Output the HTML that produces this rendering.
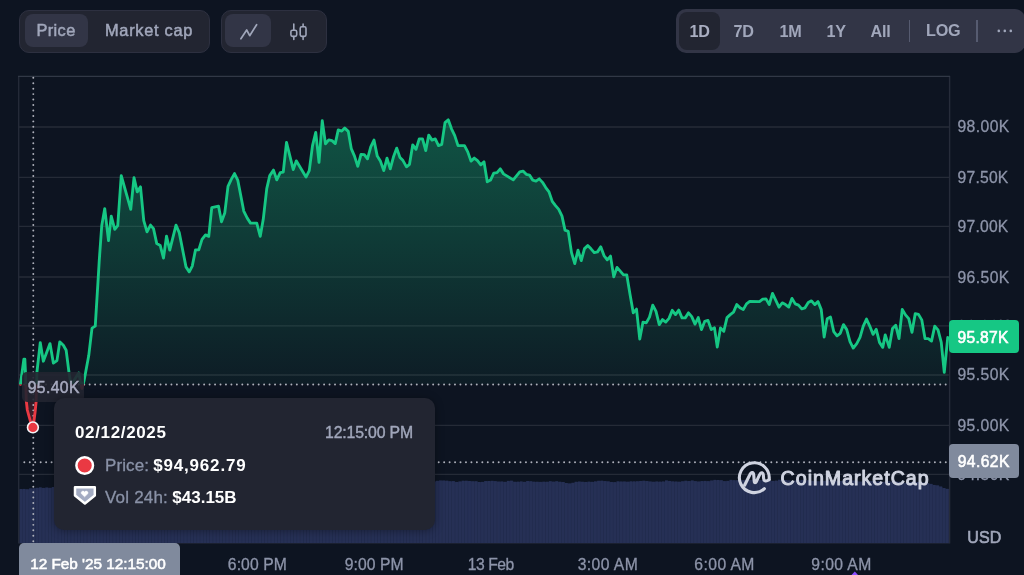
<!DOCTYPE html>
<html lang="en"><head><meta charset="utf-8"><title>Price chart</title>
<style>
*{box-sizing:border-box;margin:0;padding:0}
html,body{width:1024px;height:575px;overflow:hidden;background:#0d1421}
body{position:relative;font-family:"Liberation Sans",sans-serif;color:#a1a7bb;-webkit-font-smoothing:antialiased}
.abs{position:absolute}
.grp{position:absolute;top:10px;height:42.5px;background:#222531;border:1px solid #2d3040;border-radius:10px}
.act{position:absolute;background:#323546;border-radius:8px}
.t{position:absolute;white-space:nowrap;line-height:1}
.tb{font-size:16.4px;font-weight:400;color:#a1a7bb;letter-spacing:0.35px;-webkit-text-stroke:0.5px #a1a7bb}
.tbr{font-size:16.2px;font-weight:700;color:#a1a7bb;letter-spacing:-0.2px}
.yl{position:absolute;left:957.5px;width:60px;height:20px;line-height:20px;font-size:15.7px;color:#8d94a9;white-space:nowrap;letter-spacing:0.4px;-webkit-text-stroke:0.3px #8d94a9}
.xl{position:absolute;top:555.4px;width:100px;height:20px;line-height:20px;text-align:center;font-size:15.7px;color:#8d94a9;white-space:nowrap;letter-spacing:0.1px;-webkit-text-stroke:0.3px #8d94a9}
svg{position:absolute;left:0;top:0}
</style></head><body>

<svg width="1024" height="575" viewBox="0 0 1024 575">
<defs>
<linearGradient id="ga" x1="0" y1="118" x2="0" y2="384.4" gradientUnits="userSpaceOnUse">
<stop offset="0" stop-color="#16c784" stop-opacity="0.36"/>
<stop offset="1" stop-color="#16c784" stop-opacity="0.045"/>
</linearGradient>
<linearGradient id="gr" x1="0" y1="384.4" x2="0" y2="430" gradientUnits="userSpaceOnUse">
<stop offset="0" stop-color="#ea3943" stop-opacity="0.05"/>
<stop offset="1" stop-color="#ea3943" stop-opacity="0.35"/>
</linearGradient>
<clipPath id="up"><rect x="0" y="0" width="1024" height="384.4"/></clipPath>
<clipPath id="dn"><rect x="0" y="384.4" width="1024" height="200"/></clipPath>
</defs>
<!-- volume -->
<path d="M19.5,543.9 L19.50,489.30 L22.73,489.30 L22.73,489.21 L25.95,489.21 L25.95,489.59 L29.18,489.59 L29.18,488.64 L32.41,488.64 L32.41,488.61 L35.64,488.61 L35.64,488.07 L38.86,488.07 L38.86,487.65 L42.09,487.65 L42.09,488.19 L45.32,488.19 L45.32,487.81 L48.55,487.81 L48.55,488.08 L51.77,488.08 L51.77,487.34 L55.00,487.34 L55.00,486.88 L58.23,486.88 L58.23,486.88 L61.46,486.88 L61.46,487.20 L64.68,487.20 L64.68,486.62 L67.91,486.62 L67.91,486.83 L71.14,486.83 L71.14,487.13 L74.37,487.13 L74.37,487.10 L77.59,487.10 L77.59,486.27 L80.82,486.27 L80.82,485.75 L84.05,485.75 L84.05,486.26 L87.28,486.26 L87.28,485.45 L90.50,485.45 L90.50,486.37 L93.73,486.37 L93.73,485.70 L96.96,485.70 L96.96,485.19 L100.19,485.19 L100.19,484.71 L103.41,484.71 L103.41,484.57 L106.64,484.57 L106.64,485.00 L109.87,485.00 L109.87,484.50 L113.10,484.50 L113.10,485.00 L116.32,485.00 L116.32,484.95 L119.55,484.95 L119.55,484.32 L122.78,484.32 L122.78,484.13 L126.01,484.13 L126.01,483.43 L129.23,483.43 L129.23,483.48 L132.46,483.48 L132.46,483.86 L135.69,483.86 L135.69,484.55 L138.91,484.55 L138.91,484.30 L142.14,484.30 L142.14,483.93 L145.37,483.93 L145.37,483.85 L148.60,483.85 L148.60,483.51 L151.82,483.51 L151.82,483.41 L155.05,483.41 L155.05,484.14 L158.28,484.14 L158.28,484.26 L161.51,484.26 L161.51,483.80 L164.73,483.80 L164.73,483.87 L167.96,483.87 L167.96,483.47 L171.19,483.47 L171.19,483.62 L174.42,483.62 L174.42,483.53 L177.64,483.53 L177.64,483.33 L180.87,483.33 L180.87,484.23 L184.10,484.23 L184.10,483.36 L187.33,483.36 L187.33,483.39 L190.55,483.39 L190.55,483.39 L193.78,483.39 L193.78,482.58 L197.01,482.58 L197.01,482.98 L200.24,482.98 L200.24,482.77 L203.46,482.77 L203.46,483.61 L206.69,483.61 L206.69,483.69 L209.92,483.69 L209.92,483.23 L213.15,483.23 L213.15,483.19 L216.37,483.19 L216.37,482.43 L219.60,482.43 L219.60,482.87 L222.83,482.87 L222.83,483.02 L226.06,483.02 L226.06,483.21 L229.28,483.21 L229.28,483.06 L232.51,483.06 L232.51,483.18 L235.74,483.18 L235.74,482.94 L238.97,482.94 L238.97,482.27 L242.19,482.27 L242.19,482.53 L245.42,482.53 L245.42,482.18 L248.65,482.18 L248.65,483.02 L251.88,483.02 L251.88,482.94 L255.10,482.94 L255.10,483.01 L258.33,483.01 L258.33,482.50 L261.56,482.50 L261.56,481.77 L264.78,481.77 L264.78,481.95 L268.01,481.95 L268.01,482.48 L271.24,482.48 L271.24,482.03 L274.47,482.03 L274.47,482.44 L277.69,482.44 L277.69,481.87 L280.92,481.87 L280.92,481.47 L284.15,481.47 L284.15,481.23 L287.38,481.23 L287.38,482.02 L290.60,482.02 L290.60,481.63 L293.83,481.63 L293.83,481.95 L297.06,481.95 L297.06,482.05 L300.29,482.05 L300.29,482.25 L303.51,482.25 L303.51,481.16 L306.74,481.16 L306.74,481.38 L309.97,481.38 L309.97,481.61 L313.20,481.61 L313.20,482.23 L316.42,482.23 L316.42,482.40 L319.65,482.40 L319.65,482.44 L322.88,482.44 L322.88,481.60 L326.11,481.60 L326.11,481.44 L329.33,481.44 L329.33,481.24 L332.56,481.24 L332.56,481.90 L335.79,481.90 L335.79,482.26 L339.02,482.26 L339.02,481.68 L342.24,481.68 L342.24,481.70 L345.47,481.70 L345.47,481.50 L348.70,481.50 L348.70,481.20 L351.93,481.20 L351.93,481.32 L355.15,481.32 L355.15,481.56 L358.38,481.56 L358.38,481.52 L361.61,481.52 L361.61,481.49 L364.84,481.49 L364.84,481.89 L368.06,481.89 L368.06,481.58 L371.29,481.58 L371.29,481.48 L374.52,481.48 L374.52,481.74 L377.74,481.74 L377.74,481.61 L380.97,481.61 L380.97,481.73 L384.20,481.73 L384.20,482.05 L387.43,482.05 L387.43,482.09 L390.65,482.09 L390.65,481.21 L393.88,481.21 L393.88,481.76 L397.11,481.76 L397.11,481.51 L400.34,481.51 L400.34,481.75 L403.56,481.75 L403.56,481.97 L406.79,481.97 L406.79,481.78 L410.02,481.78 L410.02,481.76 L413.25,481.76 L413.25,481.21 L416.47,481.21 L416.47,481.44 L419.70,481.44 L419.70,480.75 L422.93,480.75 L422.93,480.90 L426.16,480.90 L426.16,481.33 L429.38,481.33 L429.38,481.50 L432.61,481.50 L432.61,481.65 L435.84,481.65 L435.84,481.10 L439.07,481.10 L439.07,480.77 L442.29,480.77 L442.29,480.83 L445.52,480.83 L445.52,480.94 L448.75,480.94 L448.75,481.52 L451.98,481.52 L451.98,481.41 L455.20,481.41 L455.20,482.24 L458.43,482.24 L458.43,481.73 L461.66,481.73 L461.66,480.99 L464.89,480.99 L464.89,481.00 L468.11,481.00 L468.11,481.27 L471.34,481.27 L471.34,481.60 L474.57,481.60 L474.57,481.58 L477.80,481.58 L477.80,482.28 L481.02,482.28 L481.02,482.18 L484.25,482.18 L484.25,481.37 L487.48,481.37 L487.48,481.30 L490.70,481.30 L490.70,481.08 L493.93,481.08 L493.93,481.41 L497.16,481.41 L497.16,481.87 L500.39,481.87 L500.39,481.77 L503.61,481.77 L503.61,482.08 L506.84,482.08 L506.84,481.14 L510.07,481.14 L510.07,480.92 L513.30,480.92 L513.30,482.02 L516.52,482.02 L516.52,481.92 L519.75,481.92 L519.75,481.75 L522.98,481.75 L522.98,482.11 L526.21,482.11 L526.21,481.34 L529.43,481.34 L529.43,481.57 L532.66,481.57 L532.66,481.95 L535.89,481.95 L535.89,482.01 L539.12,482.01 L539.12,482.16 L542.34,482.16 L542.34,481.94 L545.57,481.94 L545.57,482.01 L548.80,482.01 L548.80,481.55 L552.03,481.55 L552.03,481.88 L555.25,481.88 L555.25,481.57 L558.48,481.57 L558.48,482.01 L561.71,482.01 L561.71,482.32 L564.94,482.32 L564.94,483.28 L568.16,483.28 L568.16,483.71 L571.39,483.71 L571.39,483.04 L574.62,483.04 L574.62,482.05 L577.85,482.05 L577.85,481.85 L581.07,481.85 L581.07,482.03 L584.30,482.03 L584.30,482.23 L587.53,482.23 L587.53,481.90 L590.76,481.90 L590.76,482.11 L593.98,482.11 L593.98,481.66 L597.21,481.66 L597.21,481.04 L600.44,481.04 L600.44,480.95 L603.66,480.95 L603.66,481.37 L606.89,481.37 L606.89,481.64 L610.12,481.64 L610.12,482.25 L613.35,482.25 L613.35,482.43 L616.57,482.43 L616.57,481.63 L619.80,481.63 L619.80,481.83 L623.03,481.83 L623.03,481.80 L626.26,481.80 L626.26,481.94 L629.48,481.94 L629.48,481.63 L632.71,481.63 L632.71,481.66 L635.94,481.66 L635.94,481.58 L639.17,481.58 L639.17,481.26 L642.39,481.26 L642.39,480.98 L645.62,480.98 L645.62,481.32 L648.85,481.32 L648.85,481.77 L652.08,481.77 L652.08,482.00 L655.30,482.00 L655.30,481.80 L658.53,481.80 L658.53,481.88 L661.76,481.88 L661.76,481.74 L664.99,481.74 L664.99,480.73 L668.21,480.73 L668.21,481.24 L671.44,481.24 L671.44,481.67 L674.67,481.67 L674.67,481.83 L677.90,481.83 L677.90,481.96 L681.12,481.96 L681.12,481.59 L684.35,481.59 L684.35,480.99 L687.58,480.99 L687.58,481.32 L690.81,481.32 L690.81,480.78 L694.03,480.78 L694.03,481.39 L697.26,481.39 L697.26,481.80 L700.49,481.80 L700.49,481.33 L703.72,481.33 L703.72,481.19 L706.94,481.19 L706.94,481.39 L710.17,481.39 L710.17,480.83 L713.40,480.83 L713.40,480.17 L716.62,480.17 L716.62,480.27 L719.85,480.27 L719.85,480.53 L723.08,480.53 L723.08,481.39 L726.31,481.39 L726.31,481.14 L729.53,481.14 L729.53,480.13 L732.76,480.13 L732.76,480.48 L735.99,480.48 L735.99,480.53 L739.22,480.53 L739.22,480.35 L742.44,480.35 L742.44,480.35 L745.67,480.35 L745.67,480.74 L748.90,480.74 L748.90,480.26 L752.13,480.26 L752.13,479.88 L755.35,479.88 L755.35,480.60 L758.58,480.60 L758.58,480.27 L761.81,480.27 L761.81,480.39 L765.04,480.39 L765.04,481.13 L768.26,481.13 L768.26,480.82 L771.49,480.82 L771.49,481.18 L774.72,481.18 L774.72,480.88 L777.95,480.88 L777.95,480.03 L781.17,480.03 L781.17,480.07 L784.40,480.07 L784.40,480.35 L787.63,480.35 L787.63,480.63 L790.86,480.63 L790.86,481.16 L794.08,481.16 L794.08,480.75 L797.31,480.75 L797.31,480.65 L800.54,480.65 L800.54,480.14 L803.77,480.14 L803.77,480.91 L806.99,480.91 L806.99,480.60 L810.22,480.60 L810.22,481.04 L813.45,481.04 L813.45,481.34 L816.68,481.34 L816.68,481.58 L819.90,481.58 L819.90,480.84 L823.13,480.84 L823.13,481.11 L826.36,481.11 L826.36,480.70 L829.59,480.70 L829.59,480.98 L832.81,480.98 L832.81,481.30 L836.04,481.30 L836.04,480.97 L839.27,480.97 L839.27,481.30 L842.49,481.30 L842.49,480.78 L845.72,480.78 L845.72,480.38 L848.95,480.38 L848.95,481.18 L852.18,481.18 L852.18,480.81 L855.40,480.81 L855.40,481.44 L858.63,481.44 L858.63,481.86 L861.86,481.86 L861.86,481.63 L865.09,481.63 L865.09,481.17 L868.31,481.17 L868.31,481.19 L871.54,481.19 L871.54,481.28 L874.77,481.28 L874.77,481.81 L878.00,481.81 L878.00,481.50 L881.22,481.50 L881.22,482.17 L884.45,482.17 L884.45,481.80 L887.68,481.80 L887.68,481.60 L890.91,481.60 L890.91,481.93 L894.13,481.93 L894.13,481.72 L897.36,481.72 L897.36,482.08 L900.59,482.08 L900.59,482.65 L903.82,482.65 L903.82,483.01 L907.04,483.01 L907.04,482.48 L910.27,482.48 L910.27,482.42 L913.50,482.42 L913.50,482.14 L916.73,482.14 L916.73,482.22 L919.95,482.22 L919.95,482.71 L923.18,482.71 L923.18,482.83 L926.41,482.83 L926.41,483.47 L929.64,483.47 L929.64,484.18 L932.86,484.18 L932.86,485.24 L936.09,485.24 L936.09,485.65 L939.32,485.65 L939.32,486.84 L942.55,486.84 L942.55,488.32 L945.77,488.32 L945.77,489.11 L949.00,489.11 L949,543.9 Z" fill="#202a4a"/>
<g fill="#263055"><rect x="19.50" y="489.00" width="2.78" height="54.90"/><rect x="22.73" y="488.91" width="2.78" height="54.99"/><rect x="25.95" y="489.29" width="2.78" height="54.61"/><rect x="29.18" y="488.34" width="2.78" height="55.56"/><rect x="32.41" y="488.31" width="2.78" height="55.59"/><rect x="35.64" y="487.77" width="2.78" height="56.13"/><rect x="38.86" y="487.35" width="2.78" height="56.55"/><rect x="42.09" y="487.89" width="2.78" height="56.01"/><rect x="45.32" y="487.51" width="2.78" height="56.39"/><rect x="48.55" y="487.78" width="2.78" height="56.12"/><rect x="51.77" y="487.04" width="2.78" height="56.86"/><rect x="55.00" y="486.58" width="2.78" height="57.32"/><rect x="58.23" y="486.58" width="2.78" height="57.32"/><rect x="61.46" y="486.90" width="2.78" height="57.00"/><rect x="64.68" y="486.32" width="2.78" height="57.58"/><rect x="67.91" y="486.53" width="2.78" height="57.37"/><rect x="71.14" y="486.83" width="2.78" height="57.07"/><rect x="74.37" y="486.80" width="2.78" height="57.10"/><rect x="77.59" y="485.97" width="2.78" height="57.93"/><rect x="80.82" y="485.45" width="2.78" height="58.45"/><rect x="84.05" y="485.96" width="2.78" height="57.94"/><rect x="87.28" y="485.15" width="2.78" height="58.75"/><rect x="90.50" y="486.07" width="2.78" height="57.83"/><rect x="93.73" y="485.40" width="2.78" height="58.50"/><rect x="96.96" y="484.89" width="2.78" height="59.01"/><rect x="100.19" y="484.41" width="2.78" height="59.49"/><rect x="103.41" y="484.27" width="2.78" height="59.63"/><rect x="106.64" y="484.70" width="2.78" height="59.20"/><rect x="109.87" y="484.20" width="2.78" height="59.70"/><rect x="113.10" y="484.70" width="2.78" height="59.20"/><rect x="116.32" y="484.65" width="2.78" height="59.25"/><rect x="119.55" y="484.02" width="2.78" height="59.88"/><rect x="122.78" y="483.83" width="2.78" height="60.07"/><rect x="126.01" y="483.13" width="2.78" height="60.77"/><rect x="129.23" y="483.18" width="2.78" height="60.72"/><rect x="132.46" y="483.56" width="2.78" height="60.34"/><rect x="135.69" y="484.25" width="2.78" height="59.65"/><rect x="138.91" y="484.00" width="2.78" height="59.90"/><rect x="142.14" y="483.63" width="2.78" height="60.27"/><rect x="145.37" y="483.55" width="2.78" height="60.35"/><rect x="148.60" y="483.21" width="2.78" height="60.69"/><rect x="151.82" y="483.11" width="2.78" height="60.79"/><rect x="155.05" y="483.84" width="2.78" height="60.06"/><rect x="158.28" y="483.96" width="2.78" height="59.94"/><rect x="161.51" y="483.50" width="2.78" height="60.40"/><rect x="164.73" y="483.57" width="2.78" height="60.33"/><rect x="167.96" y="483.17" width="2.78" height="60.73"/><rect x="171.19" y="483.32" width="2.78" height="60.58"/><rect x="174.42" y="483.23" width="2.78" height="60.67"/><rect x="177.64" y="483.03" width="2.78" height="60.87"/><rect x="180.87" y="483.93" width="2.78" height="59.97"/><rect x="184.10" y="483.06" width="2.78" height="60.84"/><rect x="187.33" y="483.09" width="2.78" height="60.81"/><rect x="190.55" y="483.09" width="2.78" height="60.81"/><rect x="193.78" y="482.28" width="2.78" height="61.62"/><rect x="197.01" y="482.68" width="2.78" height="61.22"/><rect x="200.24" y="482.47" width="2.78" height="61.43"/><rect x="203.46" y="483.31" width="2.78" height="60.59"/><rect x="206.69" y="483.39" width="2.78" height="60.51"/><rect x="209.92" y="482.93" width="2.78" height="60.97"/><rect x="213.15" y="482.89" width="2.78" height="61.01"/><rect x="216.37" y="482.13" width="2.78" height="61.77"/><rect x="219.60" y="482.57" width="2.78" height="61.33"/><rect x="222.83" y="482.72" width="2.78" height="61.18"/><rect x="226.06" y="482.91" width="2.78" height="60.99"/><rect x="229.28" y="482.76" width="2.78" height="61.14"/><rect x="232.51" y="482.88" width="2.78" height="61.02"/><rect x="235.74" y="482.64" width="2.78" height="61.26"/><rect x="238.97" y="481.97" width="2.78" height="61.93"/><rect x="242.19" y="482.23" width="2.78" height="61.67"/><rect x="245.42" y="481.88" width="2.78" height="62.02"/><rect x="248.65" y="482.72" width="2.78" height="61.18"/><rect x="251.88" y="482.64" width="2.78" height="61.26"/><rect x="255.10" y="482.71" width="2.78" height="61.19"/><rect x="258.33" y="482.20" width="2.78" height="61.70"/><rect x="261.56" y="481.47" width="2.78" height="62.43"/><rect x="264.78" y="481.65" width="2.78" height="62.25"/><rect x="268.01" y="482.18" width="2.78" height="61.72"/><rect x="271.24" y="481.73" width="2.78" height="62.17"/><rect x="274.47" y="482.14" width="2.78" height="61.76"/><rect x="277.69" y="481.57" width="2.78" height="62.33"/><rect x="280.92" y="481.17" width="2.78" height="62.73"/><rect x="284.15" y="480.93" width="2.78" height="62.97"/><rect x="287.38" y="481.72" width="2.78" height="62.18"/><rect x="290.60" y="481.33" width="2.78" height="62.57"/><rect x="293.83" y="481.65" width="2.78" height="62.25"/><rect x="297.06" y="481.75" width="2.78" height="62.15"/><rect x="300.29" y="481.95" width="2.78" height="61.95"/><rect x="303.51" y="480.86" width="2.78" height="63.04"/><rect x="306.74" y="481.08" width="2.78" height="62.82"/><rect x="309.97" y="481.31" width="2.78" height="62.59"/><rect x="313.20" y="481.93" width="2.78" height="61.97"/><rect x="316.42" y="482.10" width="2.78" height="61.80"/><rect x="319.65" y="482.14" width="2.78" height="61.76"/><rect x="322.88" y="481.30" width="2.78" height="62.60"/><rect x="326.11" y="481.14" width="2.78" height="62.76"/><rect x="329.33" y="480.94" width="2.78" height="62.96"/><rect x="332.56" y="481.60" width="2.78" height="62.30"/><rect x="335.79" y="481.96" width="2.78" height="61.94"/><rect x="339.02" y="481.38" width="2.78" height="62.52"/><rect x="342.24" y="481.40" width="2.78" height="62.50"/><rect x="345.47" y="481.20" width="2.78" height="62.70"/><rect x="348.70" y="480.90" width="2.78" height="63.00"/><rect x="351.93" y="481.02" width="2.78" height="62.88"/><rect x="355.15" y="481.26" width="2.78" height="62.64"/><rect x="358.38" y="481.22" width="2.78" height="62.68"/><rect x="361.61" y="481.19" width="2.78" height="62.71"/><rect x="364.84" y="481.59" width="2.78" height="62.31"/><rect x="368.06" y="481.28" width="2.78" height="62.62"/><rect x="371.29" y="481.18" width="2.78" height="62.72"/><rect x="374.52" y="481.44" width="2.78" height="62.46"/><rect x="377.74" y="481.31" width="2.78" height="62.59"/><rect x="380.97" y="481.43" width="2.78" height="62.47"/><rect x="384.20" y="481.75" width="2.78" height="62.15"/><rect x="387.43" y="481.79" width="2.78" height="62.11"/><rect x="390.65" y="480.91" width="2.78" height="62.99"/><rect x="393.88" y="481.46" width="2.78" height="62.44"/><rect x="397.11" y="481.21" width="2.78" height="62.69"/><rect x="400.34" y="481.45" width="2.78" height="62.45"/><rect x="403.56" y="481.67" width="2.78" height="62.23"/><rect x="406.79" y="481.48" width="2.78" height="62.42"/><rect x="410.02" y="481.46" width="2.78" height="62.44"/><rect x="413.25" y="480.91" width="2.78" height="62.99"/><rect x="416.47" y="481.14" width="2.78" height="62.76"/><rect x="419.70" y="480.45" width="2.78" height="63.45"/><rect x="422.93" y="480.60" width="2.78" height="63.30"/><rect x="426.16" y="481.03" width="2.78" height="62.87"/><rect x="429.38" y="481.20" width="2.78" height="62.70"/><rect x="432.61" y="481.35" width="2.78" height="62.55"/><rect x="435.84" y="480.80" width="2.78" height="63.10"/><rect x="439.07" y="480.47" width="2.78" height="63.43"/><rect x="442.29" y="480.53" width="2.78" height="63.37"/><rect x="445.52" y="480.64" width="2.78" height="63.26"/><rect x="448.75" y="481.22" width="2.78" height="62.68"/><rect x="451.98" y="481.11" width="2.78" height="62.79"/><rect x="455.20" y="481.94" width="2.78" height="61.96"/><rect x="458.43" y="481.43" width="2.78" height="62.47"/><rect x="461.66" y="480.69" width="2.78" height="63.21"/><rect x="464.89" y="480.70" width="2.78" height="63.20"/><rect x="468.11" y="480.97" width="2.78" height="62.93"/><rect x="471.34" y="481.30" width="2.78" height="62.60"/><rect x="474.57" y="481.28" width="2.78" height="62.62"/><rect x="477.80" y="481.98" width="2.78" height="61.92"/><rect x="481.02" y="481.88" width="2.78" height="62.02"/><rect x="484.25" y="481.07" width="2.78" height="62.83"/><rect x="487.48" y="481.00" width="2.78" height="62.90"/><rect x="490.70" y="480.78" width="2.78" height="63.12"/><rect x="493.93" y="481.11" width="2.78" height="62.79"/><rect x="497.16" y="481.57" width="2.78" height="62.33"/><rect x="500.39" y="481.47" width="2.78" height="62.43"/><rect x="503.61" y="481.78" width="2.78" height="62.12"/><rect x="506.84" y="480.84" width="2.78" height="63.06"/><rect x="510.07" y="480.62" width="2.78" height="63.28"/><rect x="513.30" y="481.72" width="2.78" height="62.18"/><rect x="516.52" y="481.62" width="2.78" height="62.28"/><rect x="519.75" y="481.45" width="2.78" height="62.45"/><rect x="522.98" y="481.81" width="2.78" height="62.09"/><rect x="526.21" y="481.04" width="2.78" height="62.86"/><rect x="529.43" y="481.27" width="2.78" height="62.63"/><rect x="532.66" y="481.65" width="2.78" height="62.25"/><rect x="535.89" y="481.71" width="2.78" height="62.19"/><rect x="539.12" y="481.86" width="2.78" height="62.04"/><rect x="542.34" y="481.64" width="2.78" height="62.26"/><rect x="545.57" y="481.71" width="2.78" height="62.19"/><rect x="548.80" y="481.25" width="2.78" height="62.65"/><rect x="552.03" y="481.58" width="2.78" height="62.32"/><rect x="555.25" y="481.27" width="2.78" height="62.63"/><rect x="558.48" y="481.71" width="2.78" height="62.19"/><rect x="561.71" y="482.02" width="2.78" height="61.88"/><rect x="564.94" y="482.98" width="2.78" height="60.92"/><rect x="568.16" y="483.41" width="2.78" height="60.49"/><rect x="571.39" y="482.74" width="2.78" height="61.16"/><rect x="574.62" y="481.75" width="2.78" height="62.15"/><rect x="577.85" y="481.55" width="2.78" height="62.35"/><rect x="581.07" y="481.73" width="2.78" height="62.17"/><rect x="584.30" y="481.93" width="2.78" height="61.97"/><rect x="587.53" y="481.60" width="2.78" height="62.30"/><rect x="590.76" y="481.81" width="2.78" height="62.09"/><rect x="593.98" y="481.36" width="2.78" height="62.54"/><rect x="597.21" y="480.74" width="2.78" height="63.16"/><rect x="600.44" y="480.65" width="2.78" height="63.25"/><rect x="603.66" y="481.07" width="2.78" height="62.83"/><rect x="606.89" y="481.34" width="2.78" height="62.56"/><rect x="610.12" y="481.95" width="2.78" height="61.95"/><rect x="613.35" y="482.13" width="2.78" height="61.77"/><rect x="616.57" y="481.33" width="2.78" height="62.57"/><rect x="619.80" y="481.53" width="2.78" height="62.37"/><rect x="623.03" y="481.50" width="2.78" height="62.40"/><rect x="626.26" y="481.64" width="2.78" height="62.26"/><rect x="629.48" y="481.33" width="2.78" height="62.57"/><rect x="632.71" y="481.36" width="2.78" height="62.54"/><rect x="635.94" y="481.28" width="2.78" height="62.62"/><rect x="639.17" y="480.96" width="2.78" height="62.94"/><rect x="642.39" y="480.68" width="2.78" height="63.22"/><rect x="645.62" y="481.02" width="2.78" height="62.88"/><rect x="648.85" y="481.47" width="2.78" height="62.43"/><rect x="652.08" y="481.70" width="2.78" height="62.20"/><rect x="655.30" y="481.50" width="2.78" height="62.40"/><rect x="658.53" y="481.58" width="2.78" height="62.32"/><rect x="661.76" y="481.44" width="2.78" height="62.46"/><rect x="664.99" y="480.43" width="2.78" height="63.47"/><rect x="668.21" y="480.94" width="2.78" height="62.96"/><rect x="671.44" y="481.37" width="2.78" height="62.53"/><rect x="674.67" y="481.53" width="2.78" height="62.37"/><rect x="677.90" y="481.66" width="2.78" height="62.24"/><rect x="681.12" y="481.29" width="2.78" height="62.61"/><rect x="684.35" y="480.69" width="2.78" height="63.21"/><rect x="687.58" y="481.02" width="2.78" height="62.88"/><rect x="690.81" y="480.48" width="2.78" height="63.42"/><rect x="694.03" y="481.09" width="2.78" height="62.81"/><rect x="697.26" y="481.50" width="2.78" height="62.40"/><rect x="700.49" y="481.03" width="2.78" height="62.87"/><rect x="703.72" y="480.89" width="2.78" height="63.01"/><rect x="706.94" y="481.09" width="2.78" height="62.81"/><rect x="710.17" y="480.53" width="2.78" height="63.37"/><rect x="713.40" y="479.87" width="2.78" height="64.03"/><rect x="716.62" y="479.97" width="2.78" height="63.93"/><rect x="719.85" y="480.23" width="2.78" height="63.67"/><rect x="723.08" y="481.09" width="2.78" height="62.81"/><rect x="726.31" y="480.84" width="2.78" height="63.06"/><rect x="729.53" y="479.83" width="2.78" height="64.07"/><rect x="732.76" y="480.18" width="2.78" height="63.72"/><rect x="735.99" y="480.23" width="2.78" height="63.67"/><rect x="739.22" y="480.05" width="2.78" height="63.85"/><rect x="742.44" y="480.05" width="2.78" height="63.85"/><rect x="745.67" y="480.44" width="2.78" height="63.46"/><rect x="748.90" y="479.96" width="2.78" height="63.94"/><rect x="752.13" y="479.58" width="2.78" height="64.32"/><rect x="755.35" y="480.30" width="2.78" height="63.60"/><rect x="758.58" y="479.97" width="2.78" height="63.93"/><rect x="761.81" y="480.09" width="2.78" height="63.81"/><rect x="765.04" y="480.83" width="2.78" height="63.07"/><rect x="768.26" y="480.52" width="2.78" height="63.38"/><rect x="771.49" y="480.88" width="2.78" height="63.02"/><rect x="774.72" y="480.58" width="2.78" height="63.32"/><rect x="777.95" y="479.73" width="2.78" height="64.17"/><rect x="781.17" y="479.77" width="2.78" height="64.13"/><rect x="784.40" y="480.05" width="2.78" height="63.85"/><rect x="787.63" y="480.33" width="2.78" height="63.57"/><rect x="790.86" y="480.86" width="2.78" height="63.04"/><rect x="794.08" y="480.45" width="2.78" height="63.45"/><rect x="797.31" y="480.35" width="2.78" height="63.55"/><rect x="800.54" y="479.84" width="2.78" height="64.06"/><rect x="803.77" y="480.61" width="2.78" height="63.29"/><rect x="806.99" y="480.30" width="2.78" height="63.60"/><rect x="810.22" y="480.74" width="2.78" height="63.16"/><rect x="813.45" y="481.04" width="2.78" height="62.86"/><rect x="816.68" y="481.28" width="2.78" height="62.62"/><rect x="819.90" y="480.54" width="2.78" height="63.36"/><rect x="823.13" y="480.81" width="2.78" height="63.09"/><rect x="826.36" y="480.40" width="2.78" height="63.50"/><rect x="829.59" y="480.68" width="2.78" height="63.22"/><rect x="832.81" y="481.00" width="2.78" height="62.90"/><rect x="836.04" y="480.67" width="2.78" height="63.23"/><rect x="839.27" y="481.00" width="2.78" height="62.90"/><rect x="842.49" y="480.48" width="2.78" height="63.42"/><rect x="845.72" y="480.08" width="2.78" height="63.82"/><rect x="848.95" y="480.88" width="2.78" height="63.02"/><rect x="852.18" y="480.51" width="2.78" height="63.39"/><rect x="855.40" y="481.14" width="2.78" height="62.76"/><rect x="858.63" y="481.56" width="2.78" height="62.34"/><rect x="861.86" y="481.33" width="2.78" height="62.57"/><rect x="865.09" y="480.87" width="2.78" height="63.03"/><rect x="868.31" y="480.89" width="2.78" height="63.01"/><rect x="871.54" y="480.98" width="2.78" height="62.92"/><rect x="874.77" y="481.51" width="2.78" height="62.39"/><rect x="878.00" y="481.20" width="2.78" height="62.70"/><rect x="881.22" y="481.87" width="2.78" height="62.03"/><rect x="884.45" y="481.50" width="2.78" height="62.40"/><rect x="887.68" y="481.30" width="2.78" height="62.60"/><rect x="890.91" y="481.63" width="2.78" height="62.27"/><rect x="894.13" y="481.42" width="2.78" height="62.48"/><rect x="897.36" y="481.78" width="2.78" height="62.12"/><rect x="900.59" y="482.35" width="2.78" height="61.55"/><rect x="903.82" y="482.71" width="2.78" height="61.19"/><rect x="907.04" y="482.18" width="2.78" height="61.72"/><rect x="910.27" y="482.12" width="2.78" height="61.78"/><rect x="913.50" y="481.84" width="2.78" height="62.06"/><rect x="916.73" y="481.92" width="2.78" height="61.98"/><rect x="919.95" y="482.41" width="2.78" height="61.49"/><rect x="923.18" y="482.53" width="2.78" height="61.37"/><rect x="926.41" y="483.17" width="2.78" height="60.73"/><rect x="929.64" y="483.88" width="2.78" height="60.02"/><rect x="932.86" y="484.94" width="2.78" height="58.96"/><rect x="936.09" y="485.35" width="2.78" height="58.55"/><rect x="939.32" y="486.54" width="2.78" height="57.36"/><rect x="942.55" y="488.02" width="2.78" height="55.88"/><rect x="945.77" y="488.81" width="2.78" height="55.09"/></g>
<!-- grid -->
<g stroke="#ffffff" stroke-opacity="0.10" stroke-width="1.3"><line x1="19" y1="127.0" x2="949" y2="127.0"/><line x1="19" y1="177.4" x2="949" y2="177.4"/><line x1="19" y1="226.4" x2="949" y2="226.4"/><line x1="19" y1="277.0" x2="949" y2="277.0"/><line x1="19" y1="325.9" x2="949" y2="325.9"/><line x1="19" y1="375.0" x2="949" y2="375.0"/><line x1="19" y1="425.4" x2="949" y2="425.4"/><line x1="19" y1="474.3" x2="949" y2="474.3"/></g>
<g stroke="#323546" stroke-width="1" fill="none">
<line x1="18.7" y1="76" x2="18.7" y2="543.5" stroke="#262c3a" stroke-width="1.3"/>
<line x1="949.6" y1="76" x2="949.6" y2="543.5" stroke="#262c3a" stroke-width="1.4"/>
<line x1="18" y1="76.4" x2="950" y2="76.4" stroke="#313846" stroke-width="1.3"/>
<line x1="19" y1="543.5" x2="950" y2="543.5" stroke="#1a2030"/>
</g>
<!-- area -->
<path d="M20.40,384.30 L21.90,373.75 L23.85,359.10 L24.85,359.10 L25.50,373.00 L26.30,401.00 L27.30,410.00 L29.20,417.00 L30.80,422.50 L32.90,427.50 L33.70,423.00 L35.10,412.00 L36.10,402.00 L36.90,372.50 L40.25,342.60 L43.35,361.20 L46.65,352.60 L50.00,343.60 L53.35,363.10 L56.95,360.60 L59.75,341.90 L63.35,345.20 L66.15,350.20 L69.00,372.50 L71.20,385.50 L75.50,378.00 L78.70,373.00 L82.00,388.50 L84.00,381.00 L88.75,355.60 L92.00,328.10 L95.25,326.10 L97.75,285.60 L99.25,260.60 L101.75,225.60 L104.75,208.60 L108.50,240.60 L111.25,216.10 L114.75,229.35 L117.75,225.60 L121.25,175.60 L130.75,209.35 L134.00,177.60 L137.25,191.85 L140.50,186.85 L143.75,220.60 L147.00,231.85 L150.50,225.10 L153.50,228.60 L156.75,243.60 L160.25,245.60 L163.50,258.10 L166.50,236.10 L169.75,250.10 L176.00,225.10 L179.25,232.60 L186.00,266.85 L189.25,271.85 L192.25,266.10 L195.50,249.85 L198.75,249.85 L202.00,239.35 L205.50,234.85 L208.75,236.35 L211.75,207.60 L218.50,206.10 L221.50,221.85 L224.75,213.10 L228.00,186.35 L231.25,179.35 L234.50,173.60 L237.75,180.10 L243.75,211.10 L247.25,218.10 L250.50,223.10 L256.75,223.10 L260.25,236.35 L263.25,219.35 L266.75,188.60 L269.75,175.60 L273.50,170.10 L276.75,179.85 L280.25,172.60 L283.25,172.10 L286.50,142.35 L293.25,169.60 L296.25,160.85 L306.00,177.10 L309.25,170.60 L312.50,145.60 L315.75,132.35 L319.00,162.35 L322.25,120.60 L325.50,143.85 L328.75,139.85 L332.00,140.60 L335.25,143.60 L338.25,129.85 L341.75,131.10 L344.75,128.10 L348.25,131.35 L351.25,148.60 L354.50,156.10 L357.75,166.35 L361.00,154.35 L364.25,154.60 L367.50,158.85 L370.75,146.85 L374.00,140.10 L377.25,156.10 L380.50,161.35 L383.75,170.60 L387.00,158.10 L390.25,168.85 L393.50,156.85 L396.75,148.10 L400.00,157.60 L403.00,160.60 L406.50,166.85 L409.50,164.35 L412.75,144.85 L416.00,149.35 L419.25,138.85 L422.50,138.85 L425.75,150.60 L428.75,135.10 L432.00,140.10 L435.25,138.85 L438.50,145.60 L441.75,144.35 L445.00,122.60 L448.25,119.85 L451.50,128.85 L454.75,135.60 L458.00,145.60 L464.50,145.60 L467.75,151.85 L471.00,161.10 L474.25,158.10 L477.50,160.60 L480.75,164.85 L484.00,161.85 L487.25,181.85 L490.50,180.10 L493.75,173.10 L497.00,172.60 L500.25,168.85 L503.50,173.85 L513.25,179.85 L519.75,171.85 L523.00,171.10 L526.25,174.35 L529.50,175.10 L532.75,180.10 L536.00,181.10 L539.25,178.85 L542.50,182.35 L545.75,187.60 L549.00,191.85 L552.25,201.35 L555.50,205.60 L558.75,209.35 L562.00,216.10 L565.00,230.10 L568.25,231.35 L571.50,252.60 L574.75,263.60 L578.00,250.10 L581.25,260.60 L584.50,248.60 L587.75,245.60 L591.00,248.85 L594.25,252.60 L597.50,251.85 L600.75,246.85 L604.00,255.60 L607.25,259.85 L610.50,256.10 L613.75,276.85 L617.00,267.35 L623.50,274.85 L626.75,274.85 L630.00,294.35 L633.25,312.85 L636.50,309.10 L639.75,339.10 L643.00,322.10 L646.25,322.85 L649.50,317.10 L652.75,305.10 L656.00,311.35 L659.25,324.60 L662.50,319.60 L665.75,322.10 L669.00,318.35 L672.25,310.35 L675.50,314.60 L678.75,310.10 L682.00,317.85 L685.25,317.85 L688.50,312.85 L691.75,316.60 L695.00,324.10 L698.25,317.60 L701.50,329.60 L704.75,321.35 L708.00,320.35 L711.25,329.60 L714.50,327.85 L717.25,347.10 L720.50,327.85 L723.75,331.35 L727.00,317.60 L730.25,314.60 L733.50,312.10 L736.75,304.60 L740.00,307.85 L743.25,309.60 L746.50,303.85 L749.75,301.35 L759.50,301.60 L762.75,299.10 L766.00,298.85 L769.25,304.60 L772.50,293.35 L779.00,307.10 L782.25,302.85 L785.50,304.60 L788.75,307.10 L792.00,298.35 L795.25,303.85 L798.50,305.10 L801.75,308.85 L805.00,307.85 L808.25,302.60 L811.50,300.85 L814.75,304.60 L818.00,301.60 L821.25,309.60 L824.15,337.10 L827.25,318.85 L830.50,317.10 L833.75,331.60 L837.00,335.85 L840.25,333.35 L843.50,324.60 L846.75,329.60 L850.00,341.60 L853.25,348.10 L856.75,343.60 L860.00,337.35 L863.25,326.10 L866.50,319.10 L869.75,326.10 L873.00,334.35 L876.25,329.35 L879.50,342.35 L882.75,347.35 L885.25,334.85 L889.25,347.35 L892.50,328.60 L895.75,325.35 L899.00,338.60 L902.25,309.35 L905.50,314.85 L908.75,318.60 L912.00,332.35 L915.25,313.60 L918.50,314.35 L921.75,319.85 L925.00,338.60 L928.25,338.60 L931.50,341.10 L934.75,326.10 L938.00,329.85 L941.25,342.35 L944.25,372.25 L947.75,337.35 L947.75,384.4 L20.40,384.4 Z" fill="url(#ga)" clip-path="url(#up)"/>
<path d="M20.40,384.30 L21.90,373.75 L23.85,359.10 L24.85,359.10 L25.50,373.00 L26.30,401.00 L27.30,410.00 L29.20,417.00 L30.80,422.50 L32.90,427.50 L33.70,423.00 L35.10,412.00 L36.10,402.00 L36.90,372.50 L40.25,342.60 L43.35,361.20 L46.65,352.60 L50.00,343.60 L53.35,363.10 L56.95,360.60 L59.75,341.90 L63.35,345.20 L66.15,350.20 L69.00,372.50 L71.20,385.50 L75.50,378.00 L78.70,373.00 L82.00,388.50 L84.00,381.00 L88.75,355.60 L92.00,328.10 L95.25,326.10 L97.75,285.60 L99.25,260.60 L101.75,225.60 L104.75,208.60 L108.50,240.60 L111.25,216.10 L114.75,229.35 L117.75,225.60 L121.25,175.60 L130.75,209.35 L134.00,177.60 L137.25,191.85 L140.50,186.85 L143.75,220.60 L147.00,231.85 L150.50,225.10 L153.50,228.60 L156.75,243.60 L160.25,245.60 L163.50,258.10 L166.50,236.10 L169.75,250.10 L176.00,225.10 L179.25,232.60 L186.00,266.85 L189.25,271.85 L192.25,266.10 L195.50,249.85 L198.75,249.85 L202.00,239.35 L205.50,234.85 L208.75,236.35 L211.75,207.60 L218.50,206.10 L221.50,221.85 L224.75,213.10 L228.00,186.35 L231.25,179.35 L234.50,173.60 L237.75,180.10 L243.75,211.10 L247.25,218.10 L250.50,223.10 L256.75,223.10 L260.25,236.35 L263.25,219.35 L266.75,188.60 L269.75,175.60 L273.50,170.10 L276.75,179.85 L280.25,172.60 L283.25,172.10 L286.50,142.35 L293.25,169.60 L296.25,160.85 L306.00,177.10 L309.25,170.60 L312.50,145.60 L315.75,132.35 L319.00,162.35 L322.25,120.60 L325.50,143.85 L328.75,139.85 L332.00,140.60 L335.25,143.60 L338.25,129.85 L341.75,131.10 L344.75,128.10 L348.25,131.35 L351.25,148.60 L354.50,156.10 L357.75,166.35 L361.00,154.35 L364.25,154.60 L367.50,158.85 L370.75,146.85 L374.00,140.10 L377.25,156.10 L380.50,161.35 L383.75,170.60 L387.00,158.10 L390.25,168.85 L393.50,156.85 L396.75,148.10 L400.00,157.60 L403.00,160.60 L406.50,166.85 L409.50,164.35 L412.75,144.85 L416.00,149.35 L419.25,138.85 L422.50,138.85 L425.75,150.60 L428.75,135.10 L432.00,140.10 L435.25,138.85 L438.50,145.60 L441.75,144.35 L445.00,122.60 L448.25,119.85 L451.50,128.85 L454.75,135.60 L458.00,145.60 L464.50,145.60 L467.75,151.85 L471.00,161.10 L474.25,158.10 L477.50,160.60 L480.75,164.85 L484.00,161.85 L487.25,181.85 L490.50,180.10 L493.75,173.10 L497.00,172.60 L500.25,168.85 L503.50,173.85 L513.25,179.85 L519.75,171.85 L523.00,171.10 L526.25,174.35 L529.50,175.10 L532.75,180.10 L536.00,181.10 L539.25,178.85 L542.50,182.35 L545.75,187.60 L549.00,191.85 L552.25,201.35 L555.50,205.60 L558.75,209.35 L562.00,216.10 L565.00,230.10 L568.25,231.35 L571.50,252.60 L574.75,263.60 L578.00,250.10 L581.25,260.60 L584.50,248.60 L587.75,245.60 L591.00,248.85 L594.25,252.60 L597.50,251.85 L600.75,246.85 L604.00,255.60 L607.25,259.85 L610.50,256.10 L613.75,276.85 L617.00,267.35 L623.50,274.85 L626.75,274.85 L630.00,294.35 L633.25,312.85 L636.50,309.10 L639.75,339.10 L643.00,322.10 L646.25,322.85 L649.50,317.10 L652.75,305.10 L656.00,311.35 L659.25,324.60 L662.50,319.60 L665.75,322.10 L669.00,318.35 L672.25,310.35 L675.50,314.60 L678.75,310.10 L682.00,317.85 L685.25,317.85 L688.50,312.85 L691.75,316.60 L695.00,324.10 L698.25,317.60 L701.50,329.60 L704.75,321.35 L708.00,320.35 L711.25,329.60 L714.50,327.85 L717.25,347.10 L720.50,327.85 L723.75,331.35 L727.00,317.60 L730.25,314.60 L733.50,312.10 L736.75,304.60 L740.00,307.85 L743.25,309.60 L746.50,303.85 L749.75,301.35 L759.50,301.60 L762.75,299.10 L766.00,298.85 L769.25,304.60 L772.50,293.35 L779.00,307.10 L782.25,302.85 L785.50,304.60 L788.75,307.10 L792.00,298.35 L795.25,303.85 L798.50,305.10 L801.75,308.85 L805.00,307.85 L808.25,302.60 L811.50,300.85 L814.75,304.60 L818.00,301.60 L821.25,309.60 L824.15,337.10 L827.25,318.85 L830.50,317.10 L833.75,331.60 L837.00,335.85 L840.25,333.35 L843.50,324.60 L846.75,329.60 L850.00,341.60 L853.25,348.10 L856.75,343.60 L860.00,337.35 L863.25,326.10 L866.50,319.10 L869.75,326.10 L873.00,334.35 L876.25,329.35 L879.50,342.35 L882.75,347.35 L885.25,334.85 L889.25,347.35 L892.50,328.60 L895.75,325.35 L899.00,338.60 L902.25,309.35 L905.50,314.85 L908.75,318.60 L912.00,332.35 L915.25,313.60 L918.50,314.35 L921.75,319.85 L925.00,338.60 L928.25,338.60 L931.50,341.10 L934.75,326.10 L938.00,329.85 L941.25,342.35 L944.25,372.25 L947.75,337.35 L947.75,384.4 L20.40,384.4 Z" fill="url(#gr)" clip-path="url(#dn)"/>
<!-- dotted lines -->
<line x1="945.7" y1="384.4" x2="19" y2="384.4" stroke="#adb0ba" stroke-width="1.95" stroke-linecap="round" stroke-dasharray="0.01 5.4425" />
<line x1="945.8" y1="462.2" x2="19" y2="462.2" stroke="#adb0ba" stroke-width="1.95" stroke-linecap="round" stroke-dasharray="0.01 5.4425"/>
<line x1="33.3" y1="77.75" x2="33.3" y2="543" stroke="#adb0ba" stroke-width="1.95" stroke-linecap="round" stroke-dasharray="0.01 5.4425"/>
<!-- line -->
<path d="M20.40,384.30 L21.90,373.75 L23.85,359.10 L24.85,359.10 L25.50,373.00 L26.30,401.00 L27.30,410.00 L29.20,417.00 L30.80,422.50 L32.90,427.50 L33.70,423.00 L35.10,412.00 L36.10,402.00 L36.90,372.50 L40.25,342.60 L43.35,361.20 L46.65,352.60 L50.00,343.60 L53.35,363.10 L56.95,360.60 L59.75,341.90 L63.35,345.20 L66.15,350.20 L69.00,372.50 L71.20,385.50 L75.50,378.00 L78.70,373.00 L82.00,388.50 L84.00,381.00 L88.75,355.60 L92.00,328.10 L95.25,326.10 L97.75,285.60 L99.25,260.60 L101.75,225.60 L104.75,208.60 L108.50,240.60 L111.25,216.10 L114.75,229.35 L117.75,225.60 L121.25,175.60 L130.75,209.35 L134.00,177.60 L137.25,191.85 L140.50,186.85 L143.75,220.60 L147.00,231.85 L150.50,225.10 L153.50,228.60 L156.75,243.60 L160.25,245.60 L163.50,258.10 L166.50,236.10 L169.75,250.10 L176.00,225.10 L179.25,232.60 L186.00,266.85 L189.25,271.85 L192.25,266.10 L195.50,249.85 L198.75,249.85 L202.00,239.35 L205.50,234.85 L208.75,236.35 L211.75,207.60 L218.50,206.10 L221.50,221.85 L224.75,213.10 L228.00,186.35 L231.25,179.35 L234.50,173.60 L237.75,180.10 L243.75,211.10 L247.25,218.10 L250.50,223.10 L256.75,223.10 L260.25,236.35 L263.25,219.35 L266.75,188.60 L269.75,175.60 L273.50,170.10 L276.75,179.85 L280.25,172.60 L283.25,172.10 L286.50,142.35 L293.25,169.60 L296.25,160.85 L306.00,177.10 L309.25,170.60 L312.50,145.60 L315.75,132.35 L319.00,162.35 L322.25,120.60 L325.50,143.85 L328.75,139.85 L332.00,140.60 L335.25,143.60 L338.25,129.85 L341.75,131.10 L344.75,128.10 L348.25,131.35 L351.25,148.60 L354.50,156.10 L357.75,166.35 L361.00,154.35 L364.25,154.60 L367.50,158.85 L370.75,146.85 L374.00,140.10 L377.25,156.10 L380.50,161.35 L383.75,170.60 L387.00,158.10 L390.25,168.85 L393.50,156.85 L396.75,148.10 L400.00,157.60 L403.00,160.60 L406.50,166.85 L409.50,164.35 L412.75,144.85 L416.00,149.35 L419.25,138.85 L422.50,138.85 L425.75,150.60 L428.75,135.10 L432.00,140.10 L435.25,138.85 L438.50,145.60 L441.75,144.35 L445.00,122.60 L448.25,119.85 L451.50,128.85 L454.75,135.60 L458.00,145.60 L464.50,145.60 L467.75,151.85 L471.00,161.10 L474.25,158.10 L477.50,160.60 L480.75,164.85 L484.00,161.85 L487.25,181.85 L490.50,180.10 L493.75,173.10 L497.00,172.60 L500.25,168.85 L503.50,173.85 L513.25,179.85 L519.75,171.85 L523.00,171.10 L526.25,174.35 L529.50,175.10 L532.75,180.10 L536.00,181.10 L539.25,178.85 L542.50,182.35 L545.75,187.60 L549.00,191.85 L552.25,201.35 L555.50,205.60 L558.75,209.35 L562.00,216.10 L565.00,230.10 L568.25,231.35 L571.50,252.60 L574.75,263.60 L578.00,250.10 L581.25,260.60 L584.50,248.60 L587.75,245.60 L591.00,248.85 L594.25,252.60 L597.50,251.85 L600.75,246.85 L604.00,255.60 L607.25,259.85 L610.50,256.10 L613.75,276.85 L617.00,267.35 L623.50,274.85 L626.75,274.85 L630.00,294.35 L633.25,312.85 L636.50,309.10 L639.75,339.10 L643.00,322.10 L646.25,322.85 L649.50,317.10 L652.75,305.10 L656.00,311.35 L659.25,324.60 L662.50,319.60 L665.75,322.10 L669.00,318.35 L672.25,310.35 L675.50,314.60 L678.75,310.10 L682.00,317.85 L685.25,317.85 L688.50,312.85 L691.75,316.60 L695.00,324.10 L698.25,317.60 L701.50,329.60 L704.75,321.35 L708.00,320.35 L711.25,329.60 L714.50,327.85 L717.25,347.10 L720.50,327.85 L723.75,331.35 L727.00,317.60 L730.25,314.60 L733.50,312.10 L736.75,304.60 L740.00,307.85 L743.25,309.60 L746.50,303.85 L749.75,301.35 L759.50,301.60 L762.75,299.10 L766.00,298.85 L769.25,304.60 L772.50,293.35 L779.00,307.10 L782.25,302.85 L785.50,304.60 L788.75,307.10 L792.00,298.35 L795.25,303.85 L798.50,305.10 L801.75,308.85 L805.00,307.85 L808.25,302.60 L811.50,300.85 L814.75,304.60 L818.00,301.60 L821.25,309.60 L824.15,337.10 L827.25,318.85 L830.50,317.10 L833.75,331.60 L837.00,335.85 L840.25,333.35 L843.50,324.60 L846.75,329.60 L850.00,341.60 L853.25,348.10 L856.75,343.60 L860.00,337.35 L863.25,326.10 L866.50,319.10 L869.75,326.10 L873.00,334.35 L876.25,329.35 L879.50,342.35 L882.75,347.35 L885.25,334.85 L889.25,347.35 L892.50,328.60 L895.75,325.35 L899.00,338.60 L902.25,309.35 L905.50,314.85 L908.75,318.60 L912.00,332.35 L915.25,313.60 L918.50,314.35 L921.75,319.85 L925.00,338.60 L928.25,338.60 L931.50,341.10 L934.75,326.10 L938.00,329.85 L941.25,342.35 L944.25,372.25 L947.75,337.35" fill="none" stroke="#16c784" stroke-width="2.85" stroke-linejoin="round" stroke-linecap="round" clip-path="url(#up)"/>
<path d="M20.40,384.30 L21.90,373.75 L23.85,359.10 L24.85,359.10 L25.50,373.00 L26.30,401.00 L27.30,410.00 L29.20,417.00 L30.80,422.50 L32.90,427.50 L33.70,423.00 L35.10,412.00 L36.10,402.00 L36.90,372.50 L40.25,342.60 L43.35,361.20 L46.65,352.60 L50.00,343.60 L53.35,363.10 L56.95,360.60 L59.75,341.90 L63.35,345.20 L66.15,350.20 L69.00,372.50 L71.20,385.50 L75.50,378.00 L78.70,373.00 L82.00,388.50 L84.00,381.00 L88.75,355.60 L92.00,328.10 L95.25,326.10 L97.75,285.60 L99.25,260.60 L101.75,225.60 L104.75,208.60 L108.50,240.60 L111.25,216.10 L114.75,229.35 L117.75,225.60 L121.25,175.60 L130.75,209.35 L134.00,177.60 L137.25,191.85 L140.50,186.85 L143.75,220.60 L147.00,231.85 L150.50,225.10 L153.50,228.60 L156.75,243.60 L160.25,245.60 L163.50,258.10 L166.50,236.10 L169.75,250.10 L176.00,225.10 L179.25,232.60 L186.00,266.85 L189.25,271.85 L192.25,266.10 L195.50,249.85 L198.75,249.85 L202.00,239.35 L205.50,234.85 L208.75,236.35 L211.75,207.60 L218.50,206.10 L221.50,221.85 L224.75,213.10 L228.00,186.35 L231.25,179.35 L234.50,173.60 L237.75,180.10 L243.75,211.10 L247.25,218.10 L250.50,223.10 L256.75,223.10 L260.25,236.35 L263.25,219.35 L266.75,188.60 L269.75,175.60 L273.50,170.10 L276.75,179.85 L280.25,172.60 L283.25,172.10 L286.50,142.35 L293.25,169.60 L296.25,160.85 L306.00,177.10 L309.25,170.60 L312.50,145.60 L315.75,132.35 L319.00,162.35 L322.25,120.60 L325.50,143.85 L328.75,139.85 L332.00,140.60 L335.25,143.60 L338.25,129.85 L341.75,131.10 L344.75,128.10 L348.25,131.35 L351.25,148.60 L354.50,156.10 L357.75,166.35 L361.00,154.35 L364.25,154.60 L367.50,158.85 L370.75,146.85 L374.00,140.10 L377.25,156.10 L380.50,161.35 L383.75,170.60 L387.00,158.10 L390.25,168.85 L393.50,156.85 L396.75,148.10 L400.00,157.60 L403.00,160.60 L406.50,166.85 L409.50,164.35 L412.75,144.85 L416.00,149.35 L419.25,138.85 L422.50,138.85 L425.75,150.60 L428.75,135.10 L432.00,140.10 L435.25,138.85 L438.50,145.60 L441.75,144.35 L445.00,122.60 L448.25,119.85 L451.50,128.85 L454.75,135.60 L458.00,145.60 L464.50,145.60 L467.75,151.85 L471.00,161.10 L474.25,158.10 L477.50,160.60 L480.75,164.85 L484.00,161.85 L487.25,181.85 L490.50,180.10 L493.75,173.10 L497.00,172.60 L500.25,168.85 L503.50,173.85 L513.25,179.85 L519.75,171.85 L523.00,171.10 L526.25,174.35 L529.50,175.10 L532.75,180.10 L536.00,181.10 L539.25,178.85 L542.50,182.35 L545.75,187.60 L549.00,191.85 L552.25,201.35 L555.50,205.60 L558.75,209.35 L562.00,216.10 L565.00,230.10 L568.25,231.35 L571.50,252.60 L574.75,263.60 L578.00,250.10 L581.25,260.60 L584.50,248.60 L587.75,245.60 L591.00,248.85 L594.25,252.60 L597.50,251.85 L600.75,246.85 L604.00,255.60 L607.25,259.85 L610.50,256.10 L613.75,276.85 L617.00,267.35 L623.50,274.85 L626.75,274.85 L630.00,294.35 L633.25,312.85 L636.50,309.10 L639.75,339.10 L643.00,322.10 L646.25,322.85 L649.50,317.10 L652.75,305.10 L656.00,311.35 L659.25,324.60 L662.50,319.60 L665.75,322.10 L669.00,318.35 L672.25,310.35 L675.50,314.60 L678.75,310.10 L682.00,317.85 L685.25,317.85 L688.50,312.85 L691.75,316.60 L695.00,324.10 L698.25,317.60 L701.50,329.60 L704.75,321.35 L708.00,320.35 L711.25,329.60 L714.50,327.85 L717.25,347.10 L720.50,327.85 L723.75,331.35 L727.00,317.60 L730.25,314.60 L733.50,312.10 L736.75,304.60 L740.00,307.85 L743.25,309.60 L746.50,303.85 L749.75,301.35 L759.50,301.60 L762.75,299.10 L766.00,298.85 L769.25,304.60 L772.50,293.35 L779.00,307.10 L782.25,302.85 L785.50,304.60 L788.75,307.10 L792.00,298.35 L795.25,303.85 L798.50,305.10 L801.75,308.85 L805.00,307.85 L808.25,302.60 L811.50,300.85 L814.75,304.60 L818.00,301.60 L821.25,309.60 L824.15,337.10 L827.25,318.85 L830.50,317.10 L833.75,331.60 L837.00,335.85 L840.25,333.35 L843.50,324.60 L846.75,329.60 L850.00,341.60 L853.25,348.10 L856.75,343.60 L860.00,337.35 L863.25,326.10 L866.50,319.10 L869.75,326.10 L873.00,334.35 L876.25,329.35 L879.50,342.35 L882.75,347.35 L885.25,334.85 L889.25,347.35 L892.50,328.60 L895.75,325.35 L899.00,338.60 L902.25,309.35 L905.50,314.85 L908.75,318.60 L912.00,332.35 L915.25,313.60 L918.50,314.35 L921.75,319.85 L925.00,338.60 L928.25,338.60 L931.50,341.10 L934.75,326.10 L938.00,329.85 L941.25,342.35 L944.25,372.25 L947.75,337.35" fill="none" stroke="#ea3943" stroke-width="2.85" stroke-linejoin="round" stroke-linecap="round" clip-path="url(#dn)"/>
<!-- marker -->
<circle cx="32.9" cy="427.4" r="5.4" fill="#ea3943" stroke="#f4f5f8" stroke-width="1.6"/>
<!-- watermark -->
<g fill="none" stroke="#cfd3e0" stroke-width="3.1" stroke-linecap="round" stroke-linejoin="round">
<path d="M769.1,479.6 A14.9,14.9 0 1 0 764.4,488.7"/>
<path d="M744.6,485.2 L749.6,475.2 C751.2,471.6 753.6,471.8 753.8,475.6 L754.2,481 C754.4,483.4 755.6,483.2 756.6,481.2 L759.4,475.2 C761,471.6 763.2,472 763.4,475.6 L763.6,478.4 C763.8,481.6 766.6,481.6 769.1,479.6"/>
</g>
<text x="780.6" y="485.3" font-family="'Liberation Sans',sans-serif" font-weight="400" font-size="19.6" fill="#cfd3e0" stroke="#cfd3e0" stroke-width="1" stroke-linejoin="round" textLength="148" lengthAdjust="spacing">CoinMarketCap</text>
<!-- purple marker -->
<path d="M851.5,575 L854.8,571.6 L858,575 Z" fill="#8a4dff"/>
</svg>

<!-- y labels -->
<div class="yl" style="top:117.0px">98.00K</div><div class="yl" style="top:168.1px;letter-spacing:0.22px">97.50K</div><div class="yl" style="top:216.8px;letter-spacing:0.22px">97.00K</div><div class="yl" style="top:267.6px">96.50K</div><div class="yl" style="top:317.1px">96.00K</div><div class="yl" style="top:364.9px">95.50K</div><div class="yl" style="top:416.1px">95.00K</div><div class="yl" style="top:464.9px">94.50K</div>
<div class="yl" style="top:527.9px;left:967.3px;font-size:16px;letter-spacing:0.15px;color:#a1a7bb;-webkit-text-stroke:0.6px #a1a7bb">USD</div>
<div class="abs" style="left:949.1px;top:319.7px;width:69.7px;height:33.8px;background:#16c784;border-radius:4px"></div>
<div class="yl" style="top:328.0px;left:957.5px;color:#fff;font-size:15.6px;letter-spacing:0.3px;-webkit-text-stroke:0.6px #fff">95.87K</div>
<div class="abs" style="left:949.2px;top:443.6px;width:69.5px;height:34px;background:#808a9d;border-radius:4px"></div>
<div class="yl" style="top:452.1px;left:957.7px;color:#fff;font-size:15.6px;letter-spacing:0.45px;-webkit-text-stroke:0.6px #fff">94.62K</div>

<!-- x labels -->
<div class="xl" style="left:207.4px">6:00 PM</div><div class="xl" style="left:324.2px">9:00 PM</div><div class="xl" style="left:440.8px;letter-spacing:-0.45px">13 Feb</div><div class="xl" style="left:557.9px;letter-spacing:0.42px">3:00 AM</div><div class="xl" style="left:674.6px;letter-spacing:0.42px">6:00 AM</div><div class="xl" style="left:791.5px;letter-spacing:0.42px">9:00 AM</div>
<div class="abs" style="left:19px;top:543px;width:160.5px;height:34px;background:#808a9d;border-radius:5px 5px 0 0"></div>
<div class="t" style="left:30.2px;top:556.2px;font-size:15.35px;color:#fff;letter-spacing:-0.03px;-webkit-text-stroke:0.55px #fff">12 Feb '25 12:15:00</div>

<!-- 95.40K label -->
<div class="abs" style="left:22px;top:372px;width:62px;height:30px;background:rgba(34,37,49,0.9);border-radius:5px"></div>
<div class="yl" style="top:377.9px;left:27.7px;color:#a8abc0;-webkit-text-stroke:0.5px #a8abc0;letter-spacing:0.4px">95.40K</div>

<!-- tooltip -->
<div class="abs" style="left:53.5px;top:398px;width:381px;height:132px;background:#222531;border-radius:10px;box-shadow:0 1px 8px rgba(0,0,0,0.35)"></div>
<div class="t" style="left:75px;top:423.5px;font-size:17px;font-weight:700;color:#fff;letter-spacing:0.65px">02/12/2025</div>
<div class="t" style="left:325px;top:425.2px;font-size:15.8px;color:#a1a7bb;letter-spacing:-0.15px;-webkit-text-stroke:0.4px #a1a7bb">12:15:00 PM</div>
<svg width="1024" height="575" viewBox="0 0 1024 575" style="pointer-events:none">
<circle cx="84.7" cy="465.5" r="8.3" fill="#ea3943" stroke="#ffffff" stroke-width="2.5"/>
<path d="M75,487.2 H94.8 V495.6 L84.9,503.4 L75,495.6 Z" fill="#a3abc2" stroke="#ffffff" stroke-width="2.5" stroke-linejoin="round"/>
<path d="M84.6,496.8 L81.3,493.6 A1.7,1.7 0 0 1 84.6,492.3 A1.7,1.7 0 0 1 87.9,493.6 Z" fill="#ffffff" stroke="#ffffff" stroke-width="0.6" stroke-linejoin="round"/>
</svg>
<div class="t" style="left:105px;top:457px;font-size:17px;color:#8a92a7;letter-spacing:0.1px;-webkit-text-stroke:0.3px #8a92a7">Price:</div>
<div class="t" style="left:153.2px;top:457px;font-size:17px;font-weight:700;color:#fff;letter-spacing:0.82px">$94,962.79</div>
<div class="t" style="left:105px;top:489px;font-size:17px;color:#8a92a7;letter-spacing:0.2px;-webkit-text-stroke:0.3px #8a92a7">Vol 24h:</div>
<div class="t" style="left:172.3px;top:489px;font-size:17px;font-weight:700;color:#fff;letter-spacing:0px">$43.15B</div>

<!-- toolbars -->
<div class="grp" style="left:19px;width:191px"></div>
<div class="act" style="left:24.7px;top:14.3px;width:63.2px;height:32.8px"></div>
<div class="t tb" style="left:36.5px;top:22.2px">Price</div>
<div class="t tb" style="left:105px;top:22.2px;letter-spacing:0.7px">Market cap</div>

<div class="grp" style="left:220.5px;width:106px"></div>
<div class="act" style="left:225px;top:14.3px;width:46.2px;height:32.8px"></div>
<svg width="1024" height="60" viewBox="0 0 1024 60">
<path d="M240.9,38.8 L246.7,30 L249.7,35.7 L256.6,24.7" fill="none" stroke="#a1a7bb" stroke-width="1.7" stroke-linecap="round" stroke-linejoin="round"/>
<g fill="none" stroke="#a1a7bb" stroke-width="1.6" stroke-linecap="round">
<line x1="293.8" y1="24" x2="293.8" y2="30"/><line x1="293.8" y1="36.5" x2="293.8" y2="39.4"/>
<rect x="290.9" y="30.2" width="5.8" height="6.2" rx="1.6"/>
<line x1="303.1" y1="24" x2="303.1" y2="26.4"/><line x1="303.1" y1="36.5" x2="303.1" y2="39.4"/>
<rect x="300.2" y="26.8" width="5.8" height="9.6" rx="1.6"/>
</g>
</svg>

<div class="abs" style="left:675.5px;top:9px;width:349px;height:43.5px;background:#323546;border-radius:10px"></div>
<div class="abs" style="left:679px;top:12px;width:40.5px;height:38px;background:#222531;border-radius:8px"></div>
<div class="t tbr" style="left:689.5px;top:22.6px;color:#a9aec1">1D</div>
<div class="t tbr" style="left:733.5px;top:22.6px">7D</div>
<div class="t tbr" style="left:779.5px;top:22.6px">1M</div>
<div class="t tbr" style="left:826.5px;top:22.6px">1Y</div>
<div class="t tbr" style="left:870.5px;top:22.6px">All</div>
<div class="abs" style="left:908.8px;top:20px;width:1.2px;height:21.6px;background:#565b70"></div>
<div class="t tbr" style="left:926px;top:22.2px">LOG</div>
<div class="abs" style="left:976.4px;top:20px;width:1.2px;height:21.6px;background:#565b70"></div>
<svg width="1024" height="60" viewBox="0 0 1024 60"><g fill="#a1a7bb"><circle cx="998.8" cy="30.9" r="1.3"/><circle cx="1004.8" cy="30.9" r="1.3"/><circle cx="1010.8" cy="30.9" r="1.3"/></g></svg>
</body></html>
